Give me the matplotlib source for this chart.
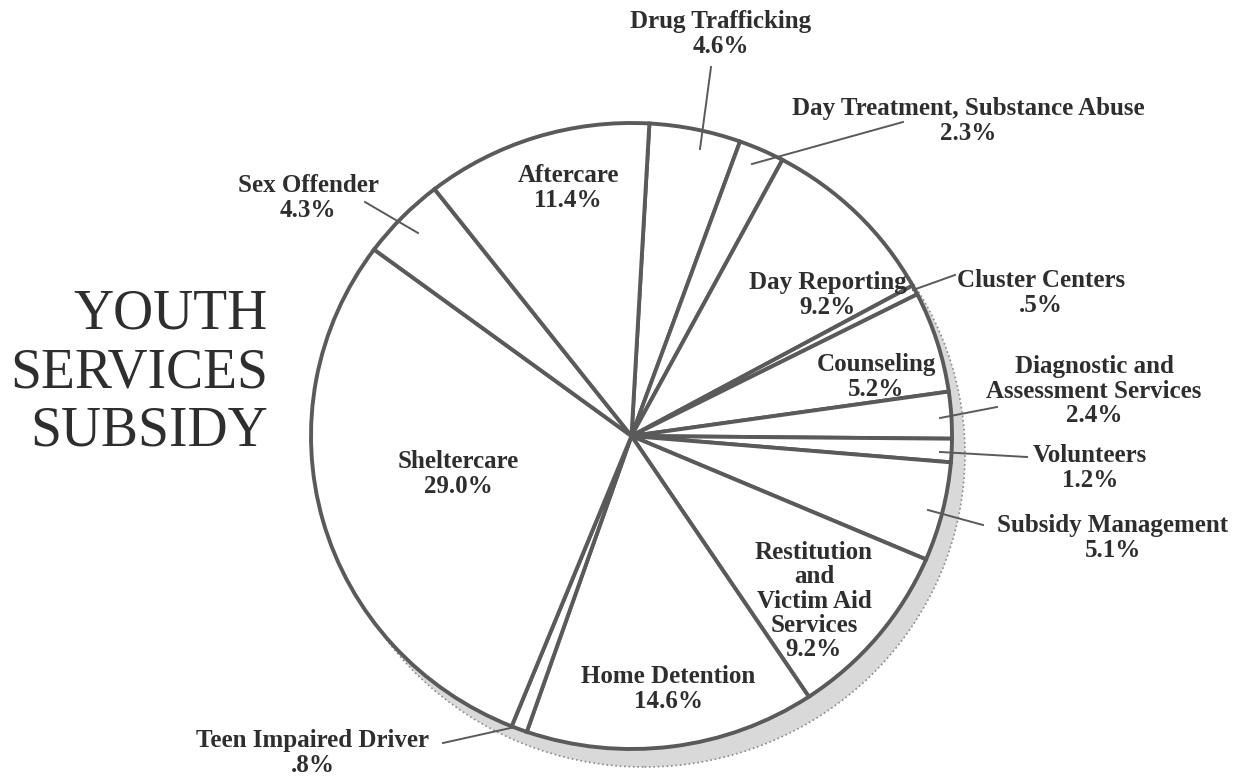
import matplotlib
matplotlib.use('Agg')
import matplotlib.pyplot as plt
from matplotlib.patches import Ellipse

W, H = 1247, 778

# slice data, clockwise from the top
names = ['Drug Trafficking', 'Day Treatment, Substance Abuse', 'Day Reporting',
         'Cluster Centers', 'Counseling', 'Diagnostic and\nAssessment Services',
         'Volunteers', 'Subsidy Management',
         'Restitution\nand\nVictim Aid\nServices', 'Home Detention',
         'Teen Impaired Driver', 'Sheltercare', 'Sex Offender', 'Aftercare']
shares = [4.6, 2.3, 9.2, 0.5, 5.2, 2.4, 1.2, 5.1, 9.2, 14.6, 0.8, 29.0, 4.3, 11.4]
pct_text = ['4.6%', '2.3%', '9.2%', '.5%', '5.2%', '2.4%', '1.2%', '5.1%',
            '9.2%', '14.6%', '.8%', '29.0%', '4.3%', '11.4%']

# label centres (pixels from top-left)
label_xy = [(721, 34), (968, 121), (828, 295), (1041, 293), (876, 377),
            (1094, 391), (1090, 468), (1113, 538), (814, 601), (668, 689),
            (313, 753), (458, 474), (308, 198), (568, 188)]

# leader lines (pixels) for the small slices
leaders = [((711, 67), (700, 149)), ((752, 164), (903, 122)),
           ((913, 290), (955, 275)), ((940, 418), (997, 407)),
           ((940, 452), (1027, 457)), ((928, 510), (983, 525)),
           ((443, 743), (515, 727)), ((365, 202), (418, 233))]

cx, cy = 631.5, 436      # pie centre in pixels
rx, ry = 320.5, 313      # the printed pie is a touch wider than tall
ink = '#2e2e2e'
edge = '#5a5a5a'

fig = plt.figure(figsize=(W / 100, H / 100), dpi=100)

# pie in its own axes, unit radius, stretched to the pixel size above
ax = fig.add_axes([0, 0, 1, 1])
ax.add_patch(Ellipse((13 / rx, -18 / ry), 2, 2, facecolor='#d9d9d9',
                     edgecolor='#8a8a8a', linestyle=':', linewidth=1.2, zorder=0))
ax.pie(shares, startangle=86.8, counterclock=False, radius=1,
       wedgeprops=dict(facecolor='white', edgecolor=edge, linewidth=2.8))
ax.set_aspect('auto')
ax.set_xlim(-cx / rx, (W - cx) / rx)
ax.set_ylim(-(H - cy) / ry, cy / ry)
ax.axis('off')

# overlay in pixel coordinates for the text and leader lines
tx = fig.add_axes([0, 0, 1, 1])
tx.set_xlim(0, W)
tx.set_ylim(H, 0)
tx.axis('off')

for (x0, y0), (x1, y1) in leaders:
    tx.plot([x0, x1], [y0, y1], color=edge, linewidth=1.4)

for n, p, (x, y) in zip(names, pct_text, label_xy):
    tx.text(x, y, n + '\n' + p, ha='center', va='center', fontsize=18,
            family='Liberation Serif', weight='bold', color=ink, linespacing=1.08)

tx.text(268, 373, 'YOUTH\nSERVICES\nSUBSIDY', ha='right', va='center',
        fontsize=40, family='Liberation Serif', color=ink, linespacing=1.17)

fig.savefig('out.png', dpi=100, facecolor='white')
